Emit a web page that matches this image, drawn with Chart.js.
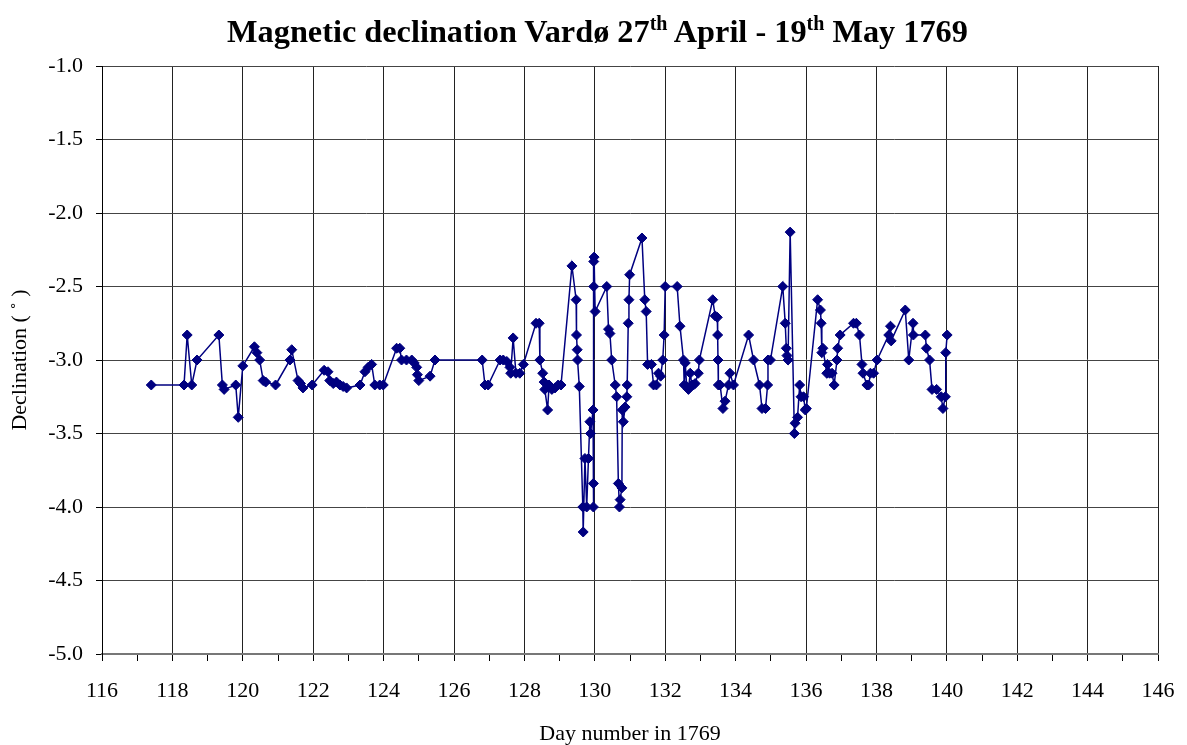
<!DOCTYPE html>
<html>
<head>
<meta charset="utf-8">
<script src="https://cdn.jsdelivr.net/npm/chart.js@4.4.1/dist/chart.umd.min.js"></script>
<style>
  html, body { margin: 0; padding: 0; background: #fff; }
  #wrap { position: relative; width: 1187px; height: 745px; }
  #title { position: absolute; left: 4px; top: 15px; width: 1187px; text-align: center;
           font-family: "Liberation Serif", "Times New Roman", serif; font-weight: bold;
           font-size: 32.3px; line-height: 32px; color: #000; }
  #title sup { font-size: 0.62em; line-height: 0; vertical-align: 0.6em; }
  canvas { position: absolute; left: 0; top: 0; }
</style>
</head>
<body>
<div id="wrap">
  <canvas id="c" width="1187" height="745"></canvas>
  <div id="title">Magnetic declination Vardø 27<sup>th</sup> April - 19<sup>th</sup> May 1769</div>
</div>
<script>
const days = [
  117.40,118.33,118.42,118.55,118.70,119.32,119.42,119.47,119.80,119.87,
  120.00,120.33,120.40,120.48,120.58,120.65,120.93,121.34,121.39,121.57,
  121.64,121.71,121.97,122.31,122.42,122.47,122.57,122.66,122.76,122.85,
  122.95,123.33,123.47,123.56,123.66,123.75,123.89,123.99,124.37,124.46,
  124.51,124.65,124.80,124.87,124.94,124.96,125.00,125.32,125.46,126.80,
  126.88,126.97,127.31,127.40,127.50,127.59,127.61,127.68,127.76,127.87,
  127.97,128.33,128.42,128.44,128.52,128.56,128.58,128.66,128.70,128.78,
  128.87,128.96,129.04,129.35,129.47,129.48,129.50,129.51,129.56,129.66,
  129.67,129.72,129.77,129.82,129.86,129.88,129.95,129.96,129.96,129.97,
  129.97,129.98,130.01,130.34,130.39,130.43,130.48,130.58,130.62,130.67,
  130.70,130.72,130.77,130.78,130.81,130.86,130.91,130.92,130.95,130.97,
  130.99,131.34,131.42,131.46,131.50,131.61,131.67,131.75,131.81,131.87,
  131.93,131.97,132.00,132.34,132.42,132.52,132.54,132.57,132.61,132.66,
  132.71,132.76,132.80,132.85,132.94,132.97,133.35,133.42,133.48,133.49,
  133.50,133.51,133.56,133.64,133.70,133.80,133.84,133.94,134.37,134.51,
  134.68,134.75,134.85,134.91,134.92,134.99,135.34,135.41,135.44,135.46,
  135.49,135.55,135.67,135.69,135.76,135.82,135.86,135.93,135.98,136.01,
  136.33,136.41,136.43,136.45,136.48,136.59,136.61,136.67,136.74,136.80,
  136.88,136.90,136.97,137.35,137.43,137.52,137.59,137.62,137.73,137.78,
  137.83,137.92,138.02,138.35,138.40,138.42,138.82,138.92,139.04,139.05,
  139.39,139.42,139.51,139.58,139.71,139.84,139.89,139.96,139.97,140.01
];
const declination = [
  -3.17,-3.17,-2.83,-3.17,-3.00,-2.83,-3.17,-3.20,-3.17,-3.39,
  -3.04,-2.91,-2.95,-3.00,-3.14,-3.15,-3.17,-3.00,-2.93,-3.14,
  -3.16,-3.19,-3.17,-3.07,-3.08,-3.14,-3.16,-3.15,-3.17,-3.18,
  -3.19,-3.17,-3.08,-3.05,-3.03,-3.17,-3.17,-3.17,-2.92,-2.92,
  -3.00,-3.00,-3.00,-3.02,-3.05,-3.10,-3.14,-3.11,-3.00,-3.00,
  -3.17,-3.17,-3.00,-3.00,-3.01,-3.05,-3.09,-2.85,-3.09,-3.09,
  -3.03,-2.75,-2.75,-3.00,-3.09,-3.15,-3.20,-3.34,-3.17,-3.20,
  -3.19,-3.17,-3.17,-2.36,-2.59,-2.83,-2.93,-3.00,-3.18,-4.00,
  -4.17,-3.67,-4.00,-3.67,-3.42,-3.50,-3.34,-3.84,-4.00,-2.50,
  -2.33,-2.30,-2.67,-2.50,-2.79,-2.82,-3.00,-3.17,-3.25,-3.84,
  -4.00,-3.95,-3.87,-3.34,-3.42,-3.32,-3.25,-3.17,-2.75,-2.59,
  -2.42,-2.17,-2.59,-2.67,-3.03,-3.03,-3.17,-3.17,-3.09,-3.11,
  -3.00,-2.83,-2.50,-2.50,-2.77,-3.00,-3.17,-3.02,-3.18,-3.20,
  -3.09,-3.17,-3.17,-3.16,-3.09,-3.00,-2.59,-2.70,-2.71,-2.83,
  -3.00,-3.17,-3.17,-3.33,-3.28,-3.17,-3.09,-3.17,-2.83,-3.00,
  -3.17,-3.33,-3.33,-3.17,-3.00,-3.00,-2.50,-2.75,-2.92,-2.97,
  -3.00,-2.13,-3.50,-3.43,-3.39,-3.17,-3.25,-3.25,-3.34,-3.33,
  -2.59,-2.66,-2.75,-2.95,-2.92,-3.09,-3.03,-3.09,-3.09,-3.17,
  -3.00,-2.92,-2.83,-2.75,-2.75,-2.83,-3.03,-3.09,-3.17,-3.17,
  -3.09,-3.09,-3.00,-2.83,-2.77,-2.87,-2.66,-3.00,-2.75,-2.83,
  -2.83,-2.92,-3.00,-3.20,-3.20,-3.25,-3.33,-3.25,-2.95,-2.83
];
const xTickMin = 116, xTickMax = 146, xLabelStep = 2;
const yTickMin = -5.0, yTickMax = -1.0, yTickStep = 0.5;

const points = days.map((d, i) => ({ x: d, y: declination[i] }));
const serif = '"Liberation Serif", "Times New Roman", serif';

const whiteBg = {
  id: 'whiteBg',
  beforeDraw(chart) {
    const ctx = chart.ctx;
    ctx.save();
    ctx.fillStyle = '#fff';
    ctx.fillRect(0, 0, chart.width, chart.height);
    ctx.restore();
  }
};

new Chart(document.getElementById('c'), {
  type: 'line',
  data: {
    datasets: [{
      data: points,
      borderColor: '#000080',
      backgroundColor: '#000080',
      borderWidth: 1.5,
      pointStyle: 'rectRot',
      pointRadius: 5,
      pointBorderWidth: 1,
      pointBorderColor: '#000080',
      pointBackgroundColor: '#000080',
      tension: 0,
      fill: false
    }]
  },
  options: {
    responsive: false,
    animation: false,
    devicePixelRatio: 1,
    layout: { autoPadding: false, padding: { top: 66, right: 29, left: 0, bottom: 0 } },
    plugins: { legend: { display: false }, tooltip: { enabled: false }, title: { display: false } },
    scales: {
      x: {
        type: 'linear',
        min: xTickMin, max: xTickMax,
        afterFit(scale) { scale.height = 91; scale.paddingRight = 0; scale.paddingLeft = 0; },
        ticks: {
          stepSize: 1, autoSkip: false, maxRotation: 0, padding: 17,
          color: '#000', font: { family: serif, size: 22 },
          callback: v => (v % xLabelStep === 0 ? String(v) : '')
        },
        grid: {
          color: c => (c.tick && c.tick.value % xLabelStep === 0 ? '#222' : 'rgba(0,0,0,0)'),
          tickColor: '#000', tickLength: 7, lineWidth: 1
        },
        border: { display: true, color: '#777', width: 2 },
        title: {
          display: true, text: 'Day number in 1769', color: '#000',
          font: { family: serif, size: 22, lineHeight: 1 }, padding: { top: -2, bottom: 0 }
        }
      },
      y: {
        type: 'linear',
        min: yTickMin, max: yTickMax,
        afterFit(scale) { scale.width = 102; },
        ticks: {
          stepSize: yTickStep, padding: 13, color: '#000',
          font: { family: serif, size: 22 },
          callback: v => v.toFixed(1)
        },
        grid: { color: '#444', tickColor: '#000', tickLength: 6, lineWidth: 1 },
        border: { display: true, color: '#000', width: 1 },
        title: {
          display: true, text: 'Declination ( ˚ )', color: '#000',
          font: { family: serif, size: 22, lineHeight: 1 }, padding: { top: 9, bottom: 0 }
        }
      }
    }
  },
  plugins: [whiteBg]
});
</script>
</body>
</html>
